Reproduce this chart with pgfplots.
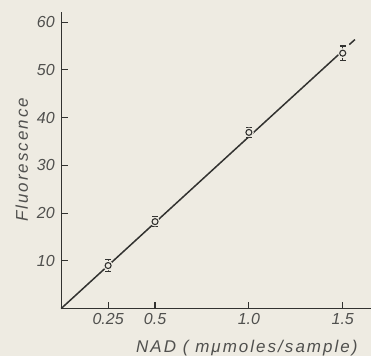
\documentclass[border=0pt]{standalone}
\usepackage{fontspec}
\setmainfont{Liberation Sans}
\newfontfamily\labfont[LetterSpace=12]{Liberation Sans}
\usepackage{pgfplots}
\pgfplotsset{compat=1.18}
\definecolor{bg}{RGB}{238,235,226}
\definecolor{ink}{RGB}{50,50,48}
\definecolor{txt}{RGB}{80,80,78}
\begin{document}
\begin{tikzpicture}
\fill[bg] (-61.3pt,-48pt) rectangle (310.7pt,309pt);
\begin{axis}[
  at={(0,0)}, anchor=origin,
  scale only axis, width=310.7pt, height=297pt,
  xmin=0, xmax=1.6527, ymin=0, ymax=62.13,
  axis lines*=left,
  axis line style={ink, line width=1.2pt},
  tick align=inside,
  major tick length=7pt,
  tick style={ink, line width=1.1pt},
  xtick={0.25,0.5,1.0,1.5},
  xticklabels={0.25,0.5,1.0,1.5},
  ytick={10,20,30,40,50,60},
  /pgf/number format/assume math mode=true,
  ticklabel style={font=\fontsize{16}{18}\selectfont\itshape, text=txt},
  yticklabel style={xshift=-3pt},
  xticklabel style={yshift=-1pt},
  clip=false,
]
\addplot[ink, line width=1.5pt] coordinates {(0,0) (1.5,54)};
\addplot[ink, line width=1.5pt] coordinates {(1.535,55.3) (1.565,56.35)};
\addplot[only marks, mark=*, mark size=4.6pt, mark options={draw=bg, fill=bg}] coordinates {
(0.25,9.0) (0.5,18.2) (1.0,36.9) (1.5,53.5)};
\addplot[only marks, mark=o, mark size=3pt, ink, line width=1.1pt,
  mark options={fill=bg},
  error bars/.cd, y dir=both, y explicit,
  error bar style={ink, line width=1.1pt},
  error mark options={ink, line width=1.1pt, mark size=2.8pt, rotate=90}]
  coordinates {
(0.25,9.0) +- (0,1.3)
(0.5,18.2) +- (0,1.0)
(1.0,36.9) +- (0,1.0)
(1.5,53.5) +- (0,1.5)
};
\end{axis}
\node[rotate=90, anchor=base, text=txt, font=\labfont\fontsize{17}{19}\selectfont\itshape] at (-33.3pt,149pt) {Fluorescence};
\node[anchor=base, text=txt, font=\labfont\fontsize{17}{19}\selectfont\itshape] at (186pt,-44pt) {NAD ( mμmoles/sample)};
\end{tikzpicture}
\end{document}
